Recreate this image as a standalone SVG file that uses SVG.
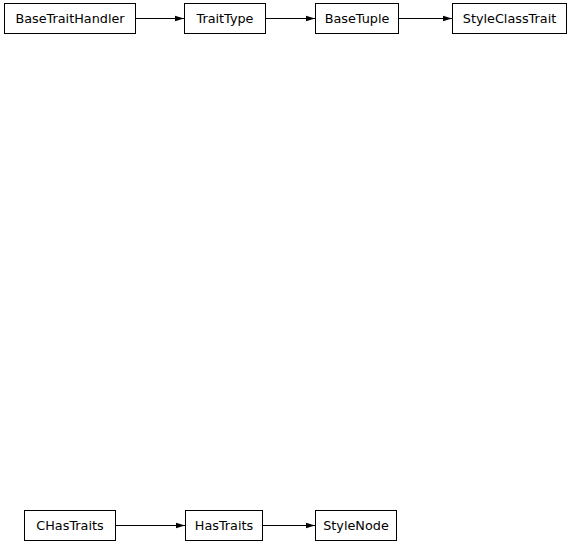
<svg xmlns="http://www.w3.org/2000/svg" width="573" height="548" viewBox="0 0 573 548">
<defs>
<style>
.n rect{fill:#fff;stroke:#000;stroke-width:1}
.n text{font-family:"DejaVu Sans",sans-serif;font-size:12.8px;text-anchor:middle;fill:#000}
.e line{stroke:#000;stroke-width:1}
</style>
<marker id="a" markerWidth="10" markerHeight="8" refX="9" refY="3.5" orient="auto" markerUnits="userSpaceOnUse">
<path d="M0,0.8 L9,3.5 L0,6.2 Z" fill="#000"/>
</marker>
</defs>
<rect width="573" height="548" fill="#fff"/>
<g id="connectors" class="e">
<line x1="136" y1="18.5" x2="184" y2="18.5" marker-end="url(#a)"/>
<line x1="266" y1="18.5" x2="315" y2="18.5" marker-end="url(#a)"/>
<line x1="399" y1="18.5" x2="452" y2="18.5" marker-end="url(#a)"/>
<line x1="115" y1="525.5" x2="185" y2="525.5" marker-end="url(#a)"/>
<line x1="263" y1="525.5" x2="315" y2="525.5" marker-end="url(#a)"/>
</g>
<g id="BaseTraitHandler" class="n"><rect x="4.5" y="3.5" width="131" height="30"/><text x="70" y="23.3">BaseTraitHandler</text></g>
<g id="TraitType" class="n"><rect x="184.5" y="3.5" width="81" height="30"/><text x="225" y="23.3">TraitType</text></g>
<g id="BaseTuple" class="n"><rect x="315.5" y="3.5" width="83" height="30"/><text x="357" y="23.3">BaseTuple</text></g>
<g id="StyleClassTrait" class="n"><rect x="452.5" y="3.5" width="114" height="30"/><text x="509.5" y="23.3">StyleClassTrait</text></g>
<g id="CHasTraits" class="n"><rect x="24.5" y="510.5" width="91" height="30"/><text x="70" y="530.3">CHasTraits</text></g>
<g id="HasTraits" class="n"><rect x="185.5" y="510.5" width="77" height="30"/><text x="224" y="530.3">HasTraits</text></g>
<g id="StyleNode" class="n"><rect x="315.5" y="510.5" width="81" height="30"/><text x="356" y="530.3">StyleNode</text></g>
</svg>
